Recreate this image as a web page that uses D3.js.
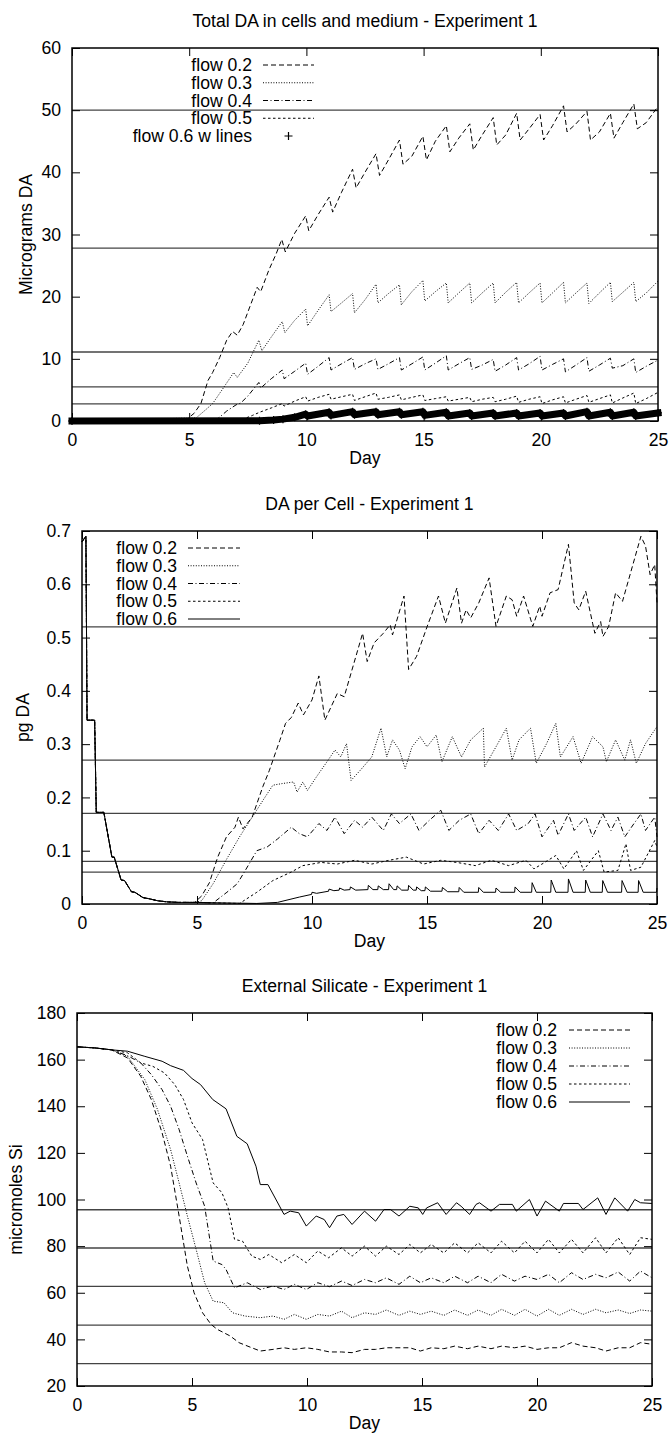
<!DOCTYPE html>
<html>
<head>
<meta charset="utf-8">
<script src="https://cdn.jsdelivr.net/npm/d3@7"></script>
<style>
  body { margin: 0; background: #fff; }
  svg text { font-family: "Liberation Sans", Arial, Helvetica, sans-serif; font-size: 17.6px; fill: #000; }
</style>
</head>
<body>
<svg id="chart" width="670" height="1441"></svg>
<script>
// ---------- shared labels and ticks ----------
const flowLabels = ["flow 0.2", "flow 0.3", "flow 0.4", "flow 0.5", "flow 0.6"];
const totalLegend = ["flow 0.2", "flow 0.3", "flow 0.4", "flow 0.5", "flow 0.6 w lines"];
const dayTicks = [0, 5, 10, 15, 20, 25];

// ---------- Total DA in cells and medium ----------
const totalTicks = [0, 10, 20, 30, 40, 50, 60];
const totalRefs = [50, 27.8, 11.1, 5.5, 2.75];
const total02 = [[0,0],[4.9,0.3],[5.2,1.2],[5.5,2.8],[5.8,6.5],[6.0,7.8],[6.3,10.2],[6.6,13.0],[6.85,14.4],[7.05,13.8],[7.3,15.5],[7.6,18.5],[7.9,21.5],[8.05,20.8],[8.4,24.3],[8.7,26.8],[8.95,29.2],[9.1,27.2],[9.5,30.2],[9.97,33.0],[10.1,30.6],[10.5,33.2],[10.97,36.0],[11.12,33.6],[11.5,36.8],[11.97,40.5],[12.12,37.5],[12.5,40.0],[12.97,43.0],[13.12,39.5],[13.5,42.0],[13.97,45.2],[14.12,41.3],[14.5,42.6],[14.97,45.8],[15.12,42.0],[15.5,45.0],[15.97,47.5],[16.12,43.3],[16.5,45.5],[16.97,47.8],[17.12,43.6],[17.5,46.0],[17.97,48.8],[18.12,44.4],[18.5,46.0],[18.97,49.5],[19.12,45.2],[19.5,47.0],[19.97,49.3],[20.12,45.2],[20.5,47.5],[20.97,50.7],[21.12,46.5],[21.5,47.8],[21.97,49.8],[22.12,45.2],[22.5,46.5],[22.97,49.5],[23.12,45.5],[23.5,48.0],[23.97,51.0],[24.12,47.0],[24.5,48.0],[25,50.6]];
const total03 = [[0,0],[5.3,0.5],[5.7,1.8],[6.0,2.8],[6.4,5.0],[6.9,7.8],[7.05,7.0],[7.5,9.3],[7.97,13.0],[8.1,11.3],[8.5,13.5],[8.97,16.0],[9.08,14.2],[9.5,16.2],[9.97,18.0],[10.05,15.3],[10.5,17.8],[10.97,20.3],[11.05,17.6],[11.5,19.0],[11.97,20.5],[12.05,17.4],[12.5,19.5],[12.97,22.0],[13.05,19.0],[13.5,20.5],[13.97,21.9],[14.05,18.7],[14.5,20.8],[14.97,22.6],[15.05,19.3],[15.5,20.8],[15.97,22.2],[16.05,19.0],[16.5,20.6],[16.97,22.2],[17.05,19.0],[17.5,20.6],[17.97,22.2],[18.05,19.0],[18.5,20.7],[18.97,22.3],[19.05,19.0],[19.5,20.6],[19.97,22.2],[20.05,19.0],[20.5,20.6],[20.97,22.3],[21.05,19.0],[21.5,20.6],[21.97,22.2],[22.05,18.9],[22.5,20.6],[22.97,22.3],[23.05,19.2],[23.5,20.7],[23.97,22.3],[24.05,19.2],[24.5,20.6],[25,22.5]];
const total04 = [[0,0],[6.2,0.3],[6.6,1.6],[7.0,2.6],[7.2,2.9],[7.5,4.0],[7.97,6.2],[8.05,5.3],[8.5,6.8],[8.97,8.2],[9.05,6.8],[9.5,8.0],[9.97,9.3],[10.05,7.5],[10.5,8.8],[10.97,10.2],[11.05,8.2],[11.5,9.2],[11.97,10.2],[12.05,8.3],[12.5,9.2],[12.97,10.0],[13.05,8.3],[13.5,9.2],[13.97,10.2],[14.05,8.2],[14.5,9.2],[14.97,10.3],[15.05,8.2],[15.5,9.3],[15.97,10.5],[16.05,8.2],[16.5,9.2],[16.97,10.2],[17.05,8.3],[17.5,9.0],[17.97,9.9],[18.05,8.0],[18.5,9.0],[18.97,10.2],[19.05,8.2],[19.5,9.2],[19.97,10.4],[20.05,8.2],[20.5,9.1],[20.97,10.0],[21.05,7.9],[21.5,9.0],[21.97,10.2],[22.05,8.0],[22.5,9.0],[22.97,10.1],[23.05,8.5],[23.5,8.9],[23.97,10.0],[24.05,7.8],[24.5,8.8],[25,9.8]];
const total05 = [[0,0],[7.3,0.3],[7.7,0.9],[8.0,1.4],[8.5,2.1],[8.97,2.8],[9.05,2.4],[9.5,3.2],[9.97,3.9],[10.05,3.2],[10.5,3.8],[10.97,4.3],[11.05,3.5],[11.5,3.9],[11.97,4.3],[12.05,3.3],[12.5,3.9],[12.97,4.5],[13.05,3.5],[13.5,3.8],[13.97,4.2],[14.05,3.4],[14.5,3.8],[14.97,4.2],[15.05,3.3],[15.5,3.6],[15.97,3.9],[16.05,3.2],[16.5,3.5],[16.97,3.8],[17.05,3.1],[17.5,3.5],[17.97,3.8],[18.05,3.1],[18.5,3.5],[18.97,4.0],[19.05,3.0],[19.5,3.5],[19.97,3.9],[20.05,2.8],[20.5,3.4],[20.97,3.9],[21.05,2.9],[21.5,3.5],[21.97,4.1],[22.05,3.0],[22.5,3.6],[22.97,4.2],[23.05,2.9],[23.5,3.7],[23.97,4.5],[24.05,2.8],[24.5,3.6],[25,4.6]];
const total06 = [[0,0],[8.0,0.05],[8.6,0.15],[9.0,0.3],[9.5,0.6],[9.97,1.1],[10.05,0.8],[10.97,1.4],[11.05,0.9],[11.97,1.5],[12.05,1.0],[12.97,1.5],[13.05,1.0],[13.97,1.5],[14.05,1.0],[14.97,1.5],[15.05,0.9],[15.97,1.4],[16.05,0.8],[16.97,1.3],[17.05,0.8],[17.97,1.3],[18.05,0.8],[18.97,1.3],[19.05,0.8],[19.97,1.3],[20.05,0.8],[20.97,1.3],[21.05,0.8],[21.97,1.5],[22.05,0.8],[22.97,1.4],[23.05,0.8],[23.97,1.4],[24.05,0.8],[25,1.3]];

// ---------- DA per Cell ----------
const cellTicks = [0, 0.1, 0.2, 0.3, 0.4, 0.5, 0.6, 0.7];
const cellRefs = [0.52, 0.27, 0.17, 0.08, 0.06];
const cellEarly = [[0,0.68],[0.17,0.69],[0.22,0.345],[0.55,0.345],[0.62,0.172],[0.95,0.172],[1.3,0.088],[1.4,0.088],[1.7,0.045],[1.85,0.044],[2.15,0.023],[2.3,0.022],[2.65,0.012],[2.9,0.01],[3.3,0.006],[3.7,0.004],[4.2,0.003],[4.6,0.003]];
const cell02 = [[4.9,0.003],[5.2,0.015],[5.54,0.04],[5.9,0.088],[6.28,0.126],[6.65,0.144],[6.8,0.163],[7.0,0.141],[7.4,0.163],[7.86,0.22],[8.14,0.25],[8.6,0.307],[8.85,0.339],[9.1,0.35],[9.4,0.377],[9.63,0.355],[10.0,0.383],[10.3,0.428],[10.56,0.345],[11.1,0.395],[11.4,0.389],[12.2,0.508],[12.4,0.455],[12.7,0.49],[13.1,0.508],[13.4,0.524],[13.5,0.505],[14.0,0.578],[14.2,0.44],[14.55,0.465],[15.0,0.52],[15.5,0.578],[15.8,0.527],[16.3,0.593],[16.5,0.527],[16.7,0.552],[16.9,0.537],[17.25,0.565],[17.7,0.612],[18.0,0.521],[18.45,0.578],[18.7,0.571],[18.9,0.54],[19.2,0.578],[19.6,0.521],[19.9,0.559],[20.0,0.54],[20.35,0.584],[20.7,0.59],[21.15,0.675],[21.4,0.565],[21.6,0.552],[21.9,0.587],[22.2,0.527],[22.3,0.508],[22.55,0.53],[22.65,0.502],[22.9,0.521],[23.2,0.584],[23.5,0.568],[24.3,0.69],[24.5,0.672],[24.7,0.618],[24.9,0.637],[25,0.565]];
const cell03 = [[4.9,0.003],[5.2,0.006],[5.7,0.038],[6.3,0.085],[6.85,0.126],[7.4,0.163],[7.95,0.2],[8.3,0.223],[8.7,0.226],[9.2,0.229],[9.35,0.21],[9.6,0.229],[9.8,0.213],[10.2,0.239],[10.7,0.27],[11.0,0.289],[11.25,0.276],[11.5,0.301],[11.7,0.232],[12.1,0.251],[12.6,0.276],[13.0,0.33],[13.25,0.276],[13.5,0.308],[13.8,0.289],[14.05,0.254],[14.35,0.295],[14.7,0.314],[15.0,0.295],[15.4,0.317],[15.65,0.267],[16.1,0.314],[16.5,0.276],[16.9,0.308],[17.45,0.33],[17.5,0.257],[18.0,0.295],[18.45,0.33],[18.7,0.27],[19.0,0.308],[19.5,0.33],[19.75,0.264],[20.2,0.301],[20.6,0.339],[20.8,0.276],[21.35,0.314],[21.7,0.264],[22.2,0.314],[22.65,0.295],[22.8,0.267],[23.2,0.308],[23.6,0.27],[23.85,0.308],[24.1,0.264],[24.5,0.301],[25,0.333]];
const cell04 = [[4.9,0.003],[5.7,0.002],[6.3,0.022],[6.75,0.038],[7.1,0.063],[7.6,0.1],[8.05,0.107],[8.5,0.122],[9.1,0.144],[9.45,0.132],[9.8,0.126],[10.3,0.151],[10.65,0.138],[11.0,0.163],[11.4,0.132],[11.85,0.157],[12.2,0.144],[12.6,0.163],[13.1,0.138],[13.45,0.169],[13.8,0.151],[14.3,0.169],[14.65,0.138],[15.1,0.157],[15.6,0.176],[15.95,0.138],[16.4,0.157],[16.9,0.169],[17.25,0.132],[17.7,0.157],[18.1,0.138],[18.55,0.169],[18.9,0.138],[19.4,0.151],[19.7,0.169],[20.0,0.126],[20.5,0.157],[20.7,0.129],[21.15,0.169],[21.4,0.138],[21.9,0.163],[22.2,0.126],[22.65,0.169],[23.0,0.138],[23.3,0.163],[23.6,0.126],[24.0,0.151],[24.3,0.169],[24.5,0.138],[24.9,0.163],[25,0.126]];
const cell05 = [[4.9,0.003],[6.85,0.001],[7.6,0.022],[8.3,0.044],[9.1,0.06],[9.6,0.072],[10.4,0.078],[11.1,0.075],[11.85,0.082],[12.6,0.075],[13.35,0.082],[14.1,0.088],[14.85,0.075],[15.6,0.082],[16.3,0.078],[17.1,0.072],[17.8,0.082],[18.55,0.072],[19.3,0.082],[19.65,0.066],[20.0,0.075],[20.6,0.091],[20.95,0.066],[21.5,0.1],[21.8,0.063],[22.45,0.1],[22.7,0.06],[23.3,0.063],[23.65,0.113],[23.85,0.063],[24.3,0.069],[24.9,0.119],[25,0.107]];
const cell06 = [[4.9,0.003],[7.6,0.001],[8.5,0.003],[9.45,0.013],[9.98,0.018],[10.0,0.022],[10.2,0.02],[10.72,0.024],[10.74,0.028],[10.95,0.025],[11.18,0.026],[11.2,0.03],[11.4,0.026],[11.65,0.027],[11.67,0.032],[11.9,0.026],[12.43,0.027],[12.45,0.035],[12.65,0.027],[12.86,0.027],[12.88,0.034],[13.1,0.027],[13.33,0.027],[13.35,0.038],[13.55,0.027],[13.68,0.027],[13.7,0.034],[13.9,0.026],[14.18,0.026],[14.2,0.035],[14.4,0.026],[14.53,0.026],[14.55,0.032],[14.75,0.025],[14.91,0.025],[14.93,0.032],[15.15,0.024],[15.65,0.024],[15.67,0.031],[15.9,0.023],[16.38,0.023],[16.4,0.031],[16.6,0.022],[17.23,0.022],[17.25,0.031],[17.45,0.022],[17.98,0.022],[18.0,0.03],[18.2,0.022],[18.81,0.022],[18.83,0.032],[19.05,0.022],[19.55,0.022],[19.57,0.04],[19.75,0.022],[20.38,0.022],[20.4,0.045],[20.6,0.022],[21.13,0.022],[21.15,0.047],[21.35,0.022],[21.88,0.022],[21.9,0.045],[22.1,0.022],[22.62,0.022],[22.64,0.044],[22.85,0.022],[23.46,0.022],[23.48,0.044],[23.7,0.022],[24.18,0.022],[24.2,0.044],[24.4,0.022],[24.98,0.022],[25,0.03]];

// ---------- External Silicate ----------
const siTicks = [20, 40, 60, 80, 100, 120, 140, 160, 180];
const siRefs = [95.6, 79.2, 62.7, 46.1, 29.6];
const siEarly = [[0,165.5],[0.8,165.0],[1.5,164.2]];
const si02 = [[2.2,160.7],[2.77,152.9],[3.23,142.9],[3.7,128.6],[4.07,114.3],[4.44,92.9],[4.8,71.4],[5.09,60.0],[5.46,51.4],[5.83,46.4],[6.1,44.3],[6.67,41.4],[7.04,38.6],[7.6,36.4],[7.97,35.0],[8.52,35.7],[9.0,36.4],[9.45,35.7],[9.97,36.4],[10.47,35.7],[10.98,34.6],[11.5,34.6],[11.96,34.3],[12.5,35.7],[12.98,35.7],[13.45,36.4],[14.0,36.4],[14.47,36.4],[14.93,35.0],[15.4,36.4],[15.95,36.0],[16.42,37.1],[16.98,36.0],[17.44,37.1],[18.0,36.0],[18.46,37.1],[19.02,36.4],[19.48,37.1],[20.0,35.7],[20.5,36.4],[20.97,36.4],[21.5,38.6],[22.0,37.1],[22.55,36.4],[23.0,35.0],[23.53,36.4],[24.03,36.4],[24.5,38.6],[25,37.9]];
const si03 = [[2.2,161.4],[2.95,151.4],[3.5,138.6],[4.07,121.4],[4.44,107.1],[4.8,92.9],[5.18,78.6],[5.55,64.3],[5.92,56.4],[6.39,55.7],[6.76,51.4],[7.3,50.0],[7.97,49.3],[8.52,50.0],[9.0,48.6],[9.45,50.7],[9.97,48.6],[10.47,50.7],[10.98,50.0],[11.5,52.1],[11.96,49.3],[12.5,51.4],[12.98,50.7],[13.45,52.6],[14.0,50.3],[14.47,52.1],[14.93,50.7],[15.4,52.1],[15.95,50.3],[16.42,52.6],[16.98,50.3],[17.44,52.6],[18.0,50.3],[18.46,52.9],[19.02,50.3],[19.48,52.9],[20.0,50.0],[20.5,52.9],[20.97,50.3],[21.5,52.9],[22.0,50.7],[22.55,52.9],[23.0,51.4],[23.53,52.6],[24.03,51.1],[24.5,52.6],[25,52.1]];
const si04 = [[2.2,161.7],[2.77,158.6],[3.23,153.6],[3.7,147.1],[4.07,140.0],[4.44,130.0],[4.8,118.6],[5.18,107.1],[5.55,97.1],[5.92,73.6],[6.3,72.1],[6.48,70.0],[6.85,62.1],[7.4,64.3],[7.97,61.4],[8.52,62.9],[9.0,61.4],[9.45,63.6],[9.97,61.4],[10.47,64.3],[10.98,62.6],[11.5,65.0],[11.96,63.1],[12.5,65.7],[12.98,64.3],[13.45,66.4],[14.0,63.6],[14.47,67.1],[14.93,64.3],[15.4,66.4],[15.95,64.3],[16.42,67.1],[16.98,64.3],[17.44,67.1],[18.0,64.3],[18.46,67.9],[19.02,65.0],[19.48,67.1],[20.0,65.7],[20.5,67.9],[20.97,64.3],[21.5,68.6],[22.0,65.7],[22.55,67.9],[23.0,66.4],[23.53,68.9],[24.03,65.0],[24.5,69.3],[25,66.4]];
const si05 = [[2.2,162.9],[2.77,158.6],[3.3,157.1],[3.8,154.3],[4.25,149.3],[4.63,142.9],[5.0,132.9],[5.46,125.7],[5.92,107.1],[6.3,102.9],[6.57,96.4],[6.85,82.9],[7.2,82.1],[7.6,75.7],[7.97,74.3],[8.34,76.4],[8.9,72.9],[9.45,76.4],[9.97,72.9],[10.47,77.9],[10.94,75.0],[11.5,79.3],[11.96,75.7],[12.5,80.0],[12.98,75.7],[13.45,80.0],[14.0,76.4],[14.47,80.7],[14.93,77.1],[15.4,80.7],[15.95,77.1],[16.42,81.4],[16.98,77.1],[17.44,81.4],[18.0,77.1],[18.46,82.1],[19.02,77.1],[19.48,82.1],[20.0,77.1],[20.5,82.9],[20.97,77.1],[21.5,82.9],[22.0,77.1],[22.55,83.6],[23.0,77.1],[23.53,83.6],[24.03,76.4],[24.5,83.6],[25,82.9]];
const si06 = [[2.2,163.6],[2.95,161.4],[3.7,159.3],[4.07,157.4],[4.63,155.4],[5.0,151.9],[5.37,149.3],[5.9,142.9],[6.48,138.9],[6.95,127.1],[7.4,123.9],[7.78,114.3],[7.97,106.4],[8.3,106.4],[9.0,93.6],[9.27,95.0],[9.64,94.3],[9.97,88.6],[10.4,92.9],[10.75,91.4],[10.98,87.9],[11.3,92.9],[11.6,93.6],[11.96,89.3],[12.5,95.0],[12.98,90.7],[13.35,95.7],[13.63,95.7],[14.0,92.9],[14.47,97.1],[14.84,96.4],[15.03,93.6],[15.2,96.4],[15.68,98.6],[16.05,93.6],[16.5,98.6],[16.7,97.1],[17.07,93.6],[17.35,97.9],[17.5,98.6],[18.0,95.0],[18.37,97.9],[18.93,97.9],[19.1,95.0],[19.67,100.0],[20.0,92.9],[20.37,99.3],[20.97,95.0],[21.15,98.3],[21.8,98.3],[22.0,95.7],[22.64,100.7],[23.0,93.6],[23.38,100.7],[23.94,95.0],[24.25,100.0],[24.5,98.6],[25,98.3]];

// line dash patterns for flow 0.2 .. 0.6
const dashes = ["5,3", "1,1.6", "5,2.5,1,2.5", "2.5,2.5", null];

const svg = d3.select("#chart");
svg.append("rect").attr("width", 670).attr("height", 1441).attr("fill", "#fff");

function drawPanel(p) {
  const x = d3.scaleLinear().domain([0, 25]).range([p.left, p.right]);
  const y = d3.scaleLinear().domain(p.yDomain).range([p.bottom, p.top]);
  const g = svg.append("g");

  g.append("text")
    .attr("x", (p.left + p.right) / 2).attr("y", p.top - 21)
    .attr("text-anchor", "middle").text(p.title);

  // horizontal reference levels
  g.append("g").selectAll("line").data(p.refs).join("line")
    .attr("x1", p.left).attr("x2", p.right)
    .attr("y1", d => y(d)).attr("y2", d => y(d))
    .attr("stroke", "#444").attr("stroke-width", 1.3);

  const line = d3.line().x(d => x(d[0])).y(d => y(d[1]));

  p.series.forEach((s, i) => {
    if (s.points) {
      // dense "+" points merge into a thick band
      g.append("path").datum(s.data).attr("d", line)
        .attr("fill", "none").attr("stroke", "#000").attr("stroke-width", 7)
        .attr("stroke-linecap", "square").attr("stroke-linejoin", "round");
      g.append("g").selectAll("path").data(s.data).join("path")
        .attr("transform", d => `translate(${x(d[0])},${y(d[1])})`)
        .attr("d", "M-4,0H4M0,-4V4").attr("stroke", "#000").attr("stroke-width", 1.2);
    } else {
      g.append("path").datum(s.data).attr("d", line)
        .attr("fill", "none").attr("stroke", "#000").attr("stroke-width", 1)
        .attr("stroke-dasharray", dashes[i]);
    }
  });

  // frame
  g.append("rect")
    .attr("x", p.left).attr("y", p.top)
    .attr("width", p.right - p.left).attr("height", p.bottom - p.top)
    .attr("fill", "none").attr("stroke", "#000").attr("stroke-width", 1.5);

  // axes with inward ticks on all four sides
  const styleAxis = sel => {
    sel.select(".domain").remove();
    sel.selectAll(".tick line").attr("stroke", "#000").attr("stroke-width", 1);
    sel.attr("font-family", null).attr("font-size", null);
    sel.selectAll("text").attr("fill", "#000");
  };
  g.append("g").attr("transform", `translate(0,${p.bottom})`)
    .call(d3.axisBottom(x).tickValues(dayTicks).tickSize(-8).tickPadding(13).tickFormat(d3.format("d")))
    .call(styleAxis);
  g.append("g").attr("transform", `translate(0,${p.top})`)
    .call(d3.axisTop(x).tickValues(dayTicks).tickSize(-8).tickFormat(""))
    .call(styleAxis);
  g.append("g").attr("transform", `translate(${p.left},0)`)
    .call(d3.axisLeft(y).tickValues(p.yTicks).tickSize(-8).tickPadding(11).tickFormat(p.yFormat))
    .call(styleAxis);
  g.append("g").attr("transform", `translate(${p.right},0)`)
    .call(d3.axisRight(y).tickValues(p.yTicks).tickSize(-8).tickFormat(""))
    .call(styleAxis);

  g.append("text")
    .attr("x", (p.left + p.right) / 2).attr("y", p.bottom + 43)
    .attr("text-anchor", "middle").text("Day");

  g.append("text")
    .attr("transform", `translate(${p.yLabelX},${(p.top + p.bottom) / 2}) rotate(-90)`)
    .attr("text-anchor", "middle").attr("dy", "0.35em").text(p.yLabel);

  // key
  const lg = p.legend;
  p.series.forEach((s, i) => {
    const cy = lg.y0 + i * lg.step;
    g.append("text").attr("x", lg.textX).attr("y", cy).attr("dy", "0.35em")
      .attr("text-anchor", "end").text(lg.labels[i]);
    if (s.points) {
      g.append("path")
        .attr("transform", `translate(${(lg.x1 + lg.x2) / 2},${cy})`)
        .attr("d", "M-4,0H4M0,-4V4").attr("stroke", "#000").attr("stroke-width", 1.2);
    } else {
      g.append("line").attr("x1", lg.x1).attr("x2", lg.x2).attr("y1", cy).attr("y2", cy)
        .attr("stroke", "#000").attr("stroke-width", 1).attr("stroke-dasharray", dashes[i]);
    }
  });
}

drawPanel({
  title: "Total DA in cells and medium - Experiment 1",
  left: 72, right: 658, top: 48, bottom: 421,
  yDomain: [0, 60], yTicks: totalTicks, yFormat: d3.format("d"),
  yLabel: "Micrograms DA", yLabelX: 26,
  refs: totalRefs,
  series: [
    { data: total02 }, { data: total03 }, { data: total04 }, { data: total05 },
    { data: total06, points: true }
  ],
  legend: { labels: totalLegend, textX: 252, x1: 263, x2: 314, y0: 65, step: 17.75 }
});

drawPanel({
  title: "DA per Cell - Experiment 1",
  left: 82, right: 657, top: 531, bottom: 904,
  yDomain: [0, 0.7], yTicks: cellTicks, yFormat: d => d === 0 ? "0" : d3.format(".1f")(d),
  yLabel: "pg DA", yLabelX: 23,
  refs: cellRefs,
  series: [cell02, cell03, cell04, cell05, cell06].map(s => ({ data: cellEarly.concat(s) })),
  legend: { labels: flowLabels, textX: 177, x1: 188, x2: 240, y0: 548, step: 17.75 }
});

drawPanel({
  title: "External Silicate - Experiment 1",
  left: 77, right: 652, top: 1013, bottom: 1386,
  yDomain: [20, 180], yTicks: siTicks, yFormat: d3.format("d"),
  yLabel: "micromoles Si", yLabelX: 16,
  refs: siRefs,
  series: [si02, si03, si04, si05, si06].map(s => ({ data: siEarly.concat(s) })),
  legend: { labels: flowLabels, textX: 557, x1: 569, x2: 630, y0: 1030, step: 18 }
});
</script>
</body>
</html>
